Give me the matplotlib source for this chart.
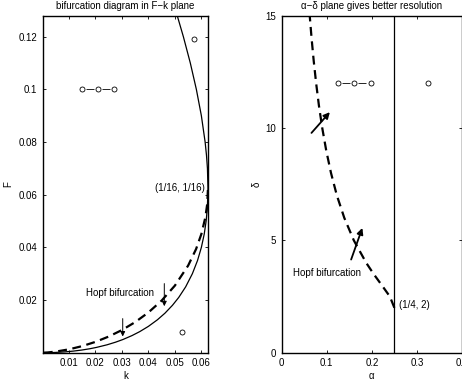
import numpy as np
import matplotlib
matplotlib.use("Agg")
import matplotlib.pyplot as plt

plt.rcParams['font.family'] = ['Liberation Sans', 'DejaVu Sans']
plt.rcParams['font.size'] = 7

# saddle-node curve in F-k plane (solid)
sn_k = [0.00022, 0.00157, 0.00349, 0.0049, 0.00836, 0.01165, 0.01481, 0.01787, 0.02036,
        0.02439, 0.02762, 0.03036, 0.03381, 0.03672, 0.04, 0.0434, 0.04624, 0.04908,
        0.05146, 0.05406, 0.0566, 0.05854, 0.06, 0.06107, 0.0618, 0.06226, 0.0625,
        0.06229, 0.06193, 0.06142, 0.06, 0.05811, 0.05583, 0.05321, 0.05089, 0.04871]
sn_F = [0.0000002, 0.00001, 0.00005, 0.0001, 0.0003, 0.0006, 0.001, 0.0015, 0.002,
        0.003, 0.004, 0.005, 0.0065, 0.008, 0.01, 0.0125, 0.015, 0.018,
        0.021, 0.025, 0.03, 0.035, 0.04, 0.045, 0.05, 0.055, 0.0625,
        0.07, 0.075, 0.08, 0.09, 0.1, 0.11, 0.12, 0.128, 0.135]

# Hopf curve in F-k plane (dashed)
hopf_k = [0.0005, 0.002, 0.005, 0.01, 0.015, 0.02, 0.025, 0.03, 0.035, 0.04,
          0.045, 0.05, 0.055, 0.058, 0.06, 0.0615, 0.0622, 0.0625]
hopf_F = [0.0000117, 0.0000985, 0.000415, 0.00127, 0.0025, 0.00411, 0.00613, 0.0086,
          0.01161, 0.01528, 0.01979, 0.02548, 0.03308, 0.03936, 0.04507, 0.05138,
          0.05639, 0.0625]

# Hopf curve in alpha-delta plane (dashed)
hopf_delta = [2, 2.5, 3, 3.5, 4, 5, 6, 7, 8, 9, 10, 11, 12, 13, 14, 15, 15.5]
hopf_alpha = [0.25, 0.24, 0.2222, 0.2041, 0.1875, 0.16, 0.1389, 0.1224, 0.1094,
              0.0988, 0.09, 0.0826, 0.0764, 0.071, 0.0663, 0.0622, 0.0604]

# marker symbols
chain_k = [0.0148, 0.0210, 0.0271]
chain_F = [0.1, 0.1, 0.1]
single_k = [0.0571, 0.0528]
single_F = [0.119, 0.0079]
chain_alpha = [0.125, 0.161, 0.199]
chain_delta = [12, 12, 12]
single_alpha = [0.324]
single_delta = [12]

fig = plt.figure(figsize=(4.62, 3.81), dpi=100)
ax1 = fig.add_axes([0.0931, 0.0743, 0.3571, 0.8845])
ax2 = fig.add_axes([0.6097, 0.0743, 0.3903, 0.8845])

for ax in (ax1, ax2):
    ax.tick_params(direction='in', top=True, right=True, length=2.5, width=0.6,
                   labelsize=7, pad=4)
    for s in ax.spines.values():
        s.set_linewidth(1.0)

dash = (0, (4, 2.5))
chainstyle = (9.6 / 0.6 * 0 + 14.4, (9.6, 9.6))

# left panel
ax1.plot(sn_k, sn_F, color='k', lw=0.9)
ax1.plot(hopf_k, hopf_F, color='k', lw=1.6, linestyle=dash)
ax1.plot(chain_k, chain_F, color='k', lw=0.6, linestyle=chainstyle,
         marker='o', ms=3.6, mfc='w', mec='k', mew=0.6)
ax1.plot(single_k, single_F, 'o', color='k', ms=3.6, mfc='none', mew=0.6)
ax1.annotate('', xy=(0.0303, 0.0051), xytext=(0.0303, 0.014),
             arrowprops=dict(arrowstyle='-|>', color='k', lw=0.7, mutation_scale=7))
ax1.annotate('', xy=(0.046, 0.0166), xytext=(0.046, 0.0273),
             arrowprops=dict(arrowstyle='-|>', color='k', lw=0.7, mutation_scale=7))
ax1.text(0.0164, 0.0227, 'Hopf bifurcation', va='center', ha='left', fontsize=7)
ax1.text(0.0426, 0.0624, '(1/16, 1/16)', va='center', ha='left', fontsize=7)
ax1.set_xlim(0.0002, 0.0625)
ax1.set_ylim(0.0000002, 0.128)
ax1.set_xticks([0.01, 0.02, 0.03, 0.04, 0.05, 0.06])
ax1.set_xticklabels(['0.01', '0.02', '0.03', '0.04', '0.05', '0.06'])
ax1.set_yticks([0.02, 0.04, 0.06, 0.08, 0.1, 0.12])
ax1.set_yticklabels(['0.02', '0.04', '0.06', '0.08', '0.1', '0.12'])
ax1.set_xlabel('k', fontsize=7, labelpad=2)
ax1.set_ylabel('F', fontsize=7, labelpad=4)
ax1.set_title('bifurcation diagram in F\u2212k plane', fontsize=7, pad=5)

# right panel
ax2.axvline(0.25, color='k', lw=0.9)
ax2.plot(hopf_alpha, hopf_delta, color='k', lw=1.6, linestyle=dash)
ax2.plot(chain_alpha, chain_delta, color='k', lw=0.6, linestyle=chainstyle,
         marker='o', ms=3.6, mfc='w', mec='k', mew=0.6)
ax2.plot(single_alpha, single_delta, 'o', color='k', ms=3.6, mfc='none', mew=0.6)
ax2.annotate('', xy=(0.111, 10.8), xytext=(0.062, 9.69),
             arrowprops=dict(arrowstyle='-|>', color='k', lw=1.3, mutation_scale=9))
ax2.annotate('', xy=(0.181, 5.67), xytext=(0.152, 4.03),
             arrowprops=dict(arrowstyle='-|>', color='k', lw=1.3, mutation_scale=9))
ax2.text(0.026, 3.56, 'Hopf bifurcation', va='center', ha='left', fontsize=7)
ax2.text(0.261, 2.14, '(1/4, 2)', va='center', ha='left', fontsize=7)
ax2.set_xlim(0, 0.4)
ax2.set_ylim(0, 15)
ax2.set_xticks([0, 0.1, 0.2, 0.3, 0.4])
ax2.set_xticklabels(['0', '0.1', '0.2', '0.3', '0.4'])
ax2.set_yticks([0, 5, 10, 15])
ax2.set_xlabel('\u03b1', fontsize=7, labelpad=2)
ax2.set_ylabel('\u03b4', fontsize=7, labelpad=3)
ax2.set_title('\u03b1\u2212\u03b4 plane gives better resolution', fontsize=7, pad=5)

fig.savefig('out.png', dpi=100)
